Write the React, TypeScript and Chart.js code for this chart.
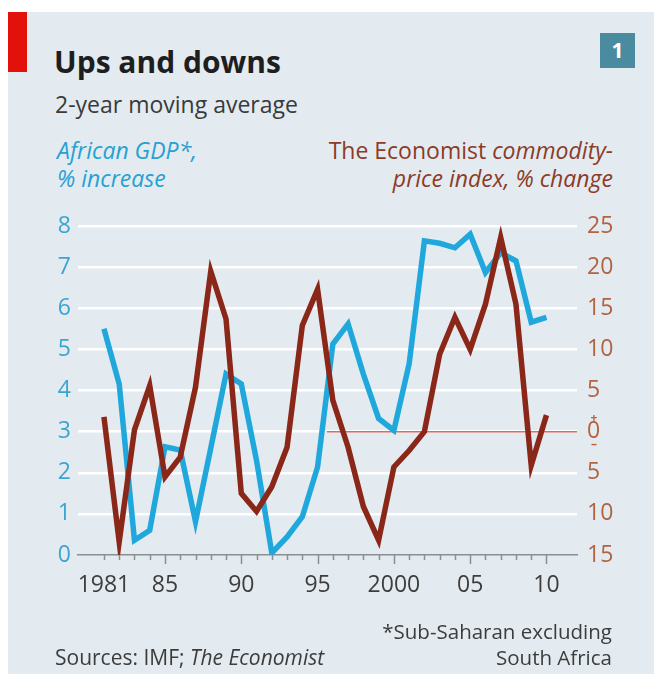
import React, { useEffect, useRef } from "react";
import { Chart, registerables } from "chart.js";

Chart.register(...registerables);

// ---- data ----
const years = [
  1981, 1982, 1983, 1984, 1985, 1986, 1987, 1988, 1989, 1990,
  1991, 1992, 1993, 1994, 1995, 1996, 1997, 1998, 1999, 2000,
  2001, 2002, 2003, 2004, 2005, 2006, 2007, 2008, 2009, 2010,
];
const africanGdp = [
  5.5, 4.16, 0.36, 0.6, 2.63, 2.55, 0.81, 2.6, 4.4, 4.16,
  2.3, 0.05, 0.44, 0.93, 2.14, 5.13, 5.62, 4.4, 3.32, 3.03,
  4.65, 7.64, 7.58, 7.47, 7.8, 6.87, 7.35, 7.15, 5.66, 5.78,
];
const commodityIndex = [
  1.8, -13.4, 0.2, 5.6, -5.5, -3.1, 5.4, 19.5, 13.7, -7.5,
  -9.7, -6.7, -1.9, 12.9, 17.3, 3.8, -1.9, -9.1, -13.2, -4.3,
  -2.3, 0, 9.4, 13.9, 10.0, 15.5, 23.6, 15.5, -4.1, 2.0,
];
const yearTickValues = [1981, 1985, 1990, 1995, 2000, 2005, 2010];
const yearTickLabels = ["1981", "85", "90", "95", "2000", "05", "10"];
const gdpRange = [0, 8];
const commodityRange = [-15, 25];
const zeroLineYears = [1995.6, 2012];
const xRange = [1979.3, 2012];

const FONT = "'Open Sans', sans-serif";
const BLUE = "#20a7db";
const RED = "#8a2718";
const BROWN_TICK = "#b4623f";
const BROWN_TEXT = "#8c3b28";

const abs = (s: React.CSSProperties): React.CSSProperties => ({ position: "absolute", ...s });

export default function App() {
  const ref = useRef<HTMLCanvasElement | null>(null);

  useEffect(() => {
    if (!ref.current) return;
    const tickPlugin = {
      id: "yearTicks",
      afterDraw(chart: any) {
        const ctx = chart.ctx;
        const xs = chart.scales.x;
        const bottom = chart.chartArea.bottom;
        ctx.save();
        ctx.strokeStyle = "#8a8f93";
        ctx.lineWidth = 1.5;
        years.forEach((yr) => {
          const px = Math.round(xs.getPixelForValue(yr)) + 0.5;
          const len = yr % 5 === 0 ? 9 : 5;
          ctx.beginPath();
          ctx.moveTo(px, bottom);
          ctx.lineTo(px, bottom + len);
          ctx.stroke();
        });
        // +/- signs around zero on the commodity axis
        const yc = chart.scales.yCom;
        const y0 = yc.getPixelForValue(0);
        const xc = chart.chartArea.right + 17;
        ctx.fillStyle = BROWN_TICK;
        ctx.font = `bold 12px ${FONT}`;
        ctx.textAlign = "center";
        ctx.textBaseline = "middle";
        ctx.fillText("+", xc, y0 - 13);
        ctx.fillText("\u2013", xc, y0 + 13);
        ctx.restore();
      },
    };

    const chart = new Chart(ref.current, {
      type: "line",
      data: {
        datasets: [
          {
            label: "Commodity-price index",
            data: years.map((x, i) => ({ x, y: commodityIndex[i] })),
            yAxisID: "yCom",
            borderColor: RED,
            borderWidth: 5.5,
            pointRadius: 0,
            tension: 0,
            order: 0,
          },
          {
            label: "African GDP",
            data: years.map((x, i) => ({ x, y: africanGdp[i] })),
            yAxisID: "yGdp",
            borderColor: BLUE,
            borderWidth: 5.5,
            pointRadius: 0,
            tension: 0,
            order: 1,
          },
          {
            label: "zero",
            data: zeroLineYears.map((x) => ({ x, y: 0 })),
            yAxisID: "yCom",
            borderColor: "#dc6a62",
            borderWidth: 1.5,
            pointRadius: 0,
            order: 2,
          },
        ],
      },
      options: {
        responsive: false,
        animation: false,
        devicePixelRatio: 1,
        layout: { padding: { top: 226, left: 0, right: 0, bottom: 0 } },
        plugins: { legend: { display: false }, tooltip: { enabled: false } },
        scales: {
          x: {
            type: "linear",
            position: "bottom",
            min: xRange[0],
            max: xRange[1],
            afterBuildTicks: (s: any) => {
              s.ticks = yearTickValues.map((value) => ({ value }));
            },
            afterFit: (s: any) => {
              s.height = 119;
            },
            ticks: {
              autoSkip: false,
              maxRotation: 0,
              padding: 17,
              color: "#3d3d3d",
              font: { family: FONT, size: 23 },
              callback: (v: any) => {
                const i = yearTickValues.indexOf(Number(v));
                return i >= 0 ? yearTickLabels[i] : "";
              },
            },
            grid: { display: false, drawTicks: false },
            border: { display: true, color: "#8a8f93", width: 1.5 },
          },
          yGdp: {
            type: "linear",
            position: "left",
            min: gdpRange[0],
            max: gdpRange[1],
            afterFit: (s: any) => {
              s.width = 78;
            },
            ticks: {
              stepSize: 1,
              padding: 7,
              color: "#3aa5d2",
              font: { family: FONT, size: 23 },
            },
            grid: {
              drawTicks: false,
              lineWidth: 2.5,
              color: (c: any) => (c.tick && c.tick.value === 0 ? "rgba(0,0,0,0)" : "#ffffff"),
            },
            border: { display: false },
          },
          yCom: {
            type: "linear",
            position: "right",
            min: commodityRange[0],
            max: commodityRange[1],
            afterFit: (s: any) => {
              s.width = 77;
            },
            ticks: {
              stepSize: 5,
              padding: 10,
              color: BROWN_TICK,
              font: { family: FONT, size: 23 },
              callback: (v: any) => String(Math.abs(Number(v))),
            },
            grid: { display: false, drawTicks: false },
            border: { display: false },
          },
        },
      },
      plugins: [tickPlugin],
    } as any);
    return () => chart.destroy();
  }, []);

  const base: React.CSSProperties = { fontFamily: FONT, whiteSpace: "nowrap", margin: 0 };

  return (
    <div style={{ position: "absolute", left: 0, top: 0, width: 654, height: 674, overflow: "hidden", background: "#ffffff" }}>
      <div style={abs({ left: 8, top: 12, width: 646, height: 662, background: "#e3ebf0" })} />
      <div style={abs({ left: 8, top: 12, width: 19, height: 60, background: "#e2110c" })} />
      <div
        style={abs({
          left: 600, top: 33, width: 35, height: 35, background: "#4b8b9f",
          color: "#ffffff", fontFamily: FONT, fontWeight: 700, fontSize: 21,
          lineHeight: "35px", textAlign: "center",
        })}
      >
        1
      </div>
      <div style={abs({ ...base, left: 54, top: 44, fontSize: 30, lineHeight: "36px", fontWeight: 700, color: "#1e1e1e" })}>
        Ups and downs
      </div>
      <div style={abs({ ...base, left: 55, top: 89, fontSize: 23, lineHeight: "30px", color: "#3a3a3a" })}>
        2-year moving average
      </div>
      <div style={abs({ ...base, left: 57, top: 136, fontSize: 23, lineHeight: "28px", color: "#27a1d3", fontStyle: "italic" })}>
        African GDP*,
        <br />% increase
      </div>
      <div style={abs({ ...base, right: 654 - 613, top: 136, fontSize: 23, lineHeight: "28px", color: BROWN_TEXT, textAlign: "right" })}>
        The Economist <i>commodity-</i>
        <br />
        <i>price index, % change</i>
      </div>
      <canvas ref={ref} width={654} height={674} style={abs({ left: 0, top: 0, width: 654, height: 674 })} />
      <div style={abs({ ...base, right: 654 - 612, top: 618, fontSize: 20.5, lineHeight: "26px", color: "#3c3c3c", textAlign: "right" })}>
        *Sub-Saharan excluding
        <br />
        South Africa
      </div>
      <div style={abs({ ...base, left: 55, top: 644, fontSize: 21, lineHeight: "26px", color: "#3c3c3c" })}>
        Sources: IMF; <i>The Economist</i>
      </div>
    </div>
  );
}
